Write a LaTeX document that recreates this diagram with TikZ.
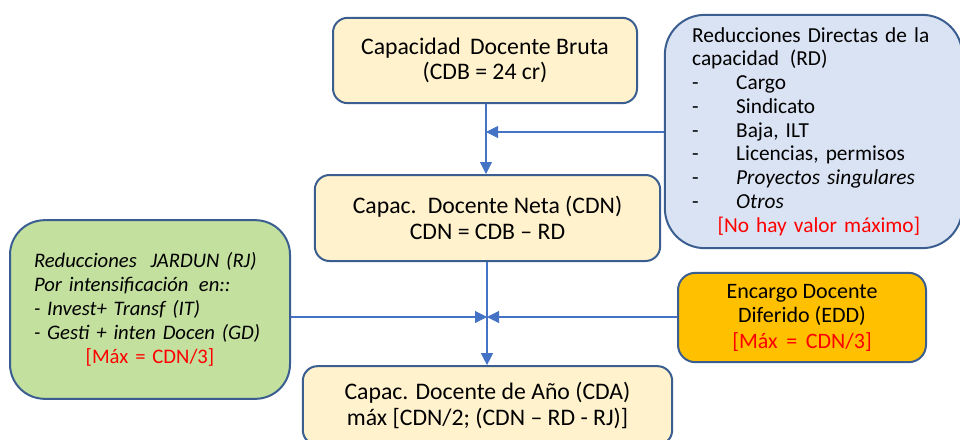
\documentclass[tikz,border=0pt]{standalone}
\usepackage{fontspec}
\setmainfont{Carlito}
\usetikzlibrary{arrows.meta}
\definecolor{bord}{HTML}{3B5E91}
\definecolor{arrc}{HTML}{4472C4}
\definecolor{yel}{HTML}{FFF2CC}
\definecolor{blu}{HTML}{DAE3F3}
\definecolor{grn}{HTML}{C3E09E}
\definecolor{org}{HTML}{FFC000}
\definecolor{txtred}{HTML}{FF0000}
\tikzset{
  box/.style={draw=bord, line width=1.5pt, align=center, inner sep=0pt},
  bigtxt/.style={font=\fontsize{17.8pt}{19pt}\selectfont},
  arr/.style={draw=arrc, line width=0.8pt, -{Triangle[length=9pt,width=9pt]}},
}
\newcommand{\itm}[1]{\makebox[33pt][l]{-}#1}
\begin{document}
\begin{tikzpicture}[x=0.75pt,y=-0.75pt]
\useasboundingbox (0,0) rectangle (960,439);
\node[box, bigtxt, fill=yel, rounded corners=11pt, minimum width=228pt, minimum height=64pt] (cdb) at (485,60.5)
  {Capacidad\, Docente Bruta\\(CDB = 24 cr)};
\node[box, fill=blu, rounded corners=30pt, minimum width=223pt, minimum height=175pt, text width=182pt, align=left,
  font=\fontsize{16pt}{17.8pt}\selectfont] (rd) at (813.5,131.5)
  {Reducciones Directas de la\\capacidad\, (RD)\\
   \itm{Cargo}\\ \itm{Sindicato}\\ \itm{Baja, ILT}\\ \itm{Licencias, permisos}\\
   \itm{\textit{Proyectos singulares}}\\ \itm{\textit{Otros}}\\
   \hspace*{19pt}{\color{txtred}[No hay valor máximo]}};
\node[box, bigtxt, fill=yel, rounded corners=11pt, minimum width=259pt, minimum height=64.5pt] (cdn) at (487.5,218)
  {Capac.\, Docente Neta (CDN)\\CDN = CDB -- RD};
\node[box, fill=grn, rounded corners=26pt, minimum width=210pt, minimum height=134pt, text width=174pt, align=left,
  font=\fontsize{15.5pt}{18pt}\selectfont] (rj) at (150,309.5)
  {\itshape Reducciones\,\, JARDUN (RJ)\\
   \itshape Por intensificación\, en::\\
   \itshape - Invest+ Transf (IT)\\
   \itshape - Gesti + inten Docen (GD)\\
   \makebox[\linewidth]{\upshape\color{txtred}[Máx = CDN/3]}};
\node[box, fill=org, rounded corners=13pt, minimum width=186pt, minimum height=67pt,
  font=\fontsize{16.5pt}{18pt}\selectfont] (edd) at (802,317.5)
  {Encargo Docente\\Diferido (EDD)\\[1.5pt]{\color{txtred}[Máx\, = \,CDN/3]}};
\node[box, bigtxt, fill=yel, rounded corners=11pt, minimum width=277pt, minimum height=59pt] (cda) at (487.5,405.5)
  {Capac. Docente de Año (CDA)\\máx [CDN/2; (CDN -- RD - RJ)]};
\coordinate (j1) at (486,132);
\coordinate (j2) at (487,317);
\draw[arr] (cdb.south -| j1) -- (cdn.north -| j1);
\draw[arr] (rd.west |- j1) -- (j1);
\draw[arr] (cdn.south -| j2) -- (cda.north -| j2);
\draw[arr] (rj.east |- j2) -- (j2);
\draw[arr] (edd.west |- j2) -- (j2);
\end{tikzpicture}
\end{document}
